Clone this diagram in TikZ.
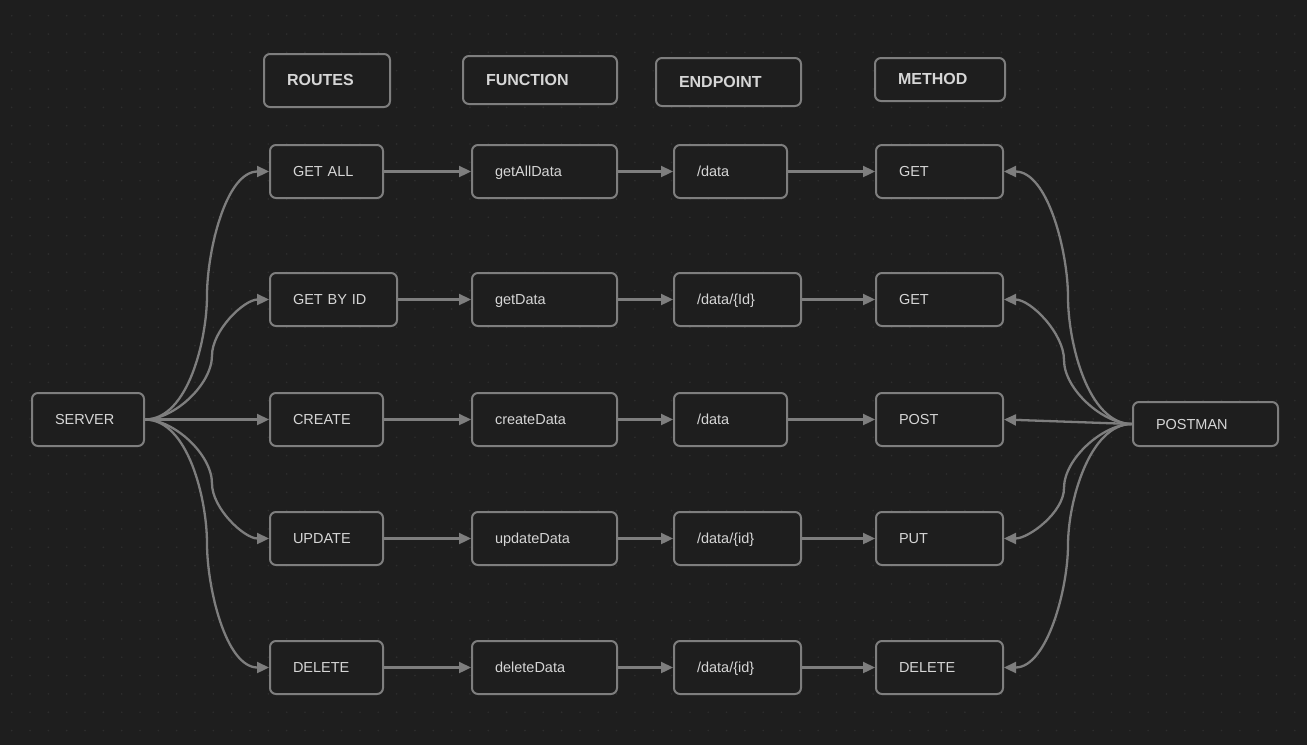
\documentclass[tikz,border=0pt]{standalone}
\usepackage{fontspec}
\setmainfont{Liberation Sans}
\usetikzlibrary{arrows.meta}
\definecolor{bgc}{HTML}{1E1E1E}
\definecolor{dotc}{HTML}{2E2E2E}
\definecolor{edgec}{HTML}{7E7E7E}
\definecolor{txtc}{HTML}{D6D6D6}
\begin{document}
\begin{tikzpicture}[x=1pt,y=-1pt,
    box/.style={draw=edgec, line width=2pt, fill=bgc, rounded corners=6pt,
      text=txtc, anchor=west, align=left, inner xsep=23pt, inner ysep=0pt,
      minimum height=53pt, text width=#1, text height=11.5pt, text depth=1.5pt,
      font=\fontsize{14.5}{16}\selectfont},
    head/.style={box=#1, font=\fontsize{16}{18}\selectfont\bfseries},
    link/.style={draw=edgec, line width=2.3pt,
      -{Triangle[length=12pt,width=11pt]}}]
  \useasboundingbox (0,0) rectangle (1307,745);
  \fill[bgc] (0,0) rectangle (1307,745);
  \foreach \i in {0,...,70}
    \foreach \j in {0,...,39}
      \fill[dotc] (11.7+18.33*\i,15.7+18.33*\j) circle (0.9);

  \node[head=80pt, minimum height=53pt] (hroutes) at (263,80.5) {ROUTES};
  \node[head=108pt, minimum height=48pt] (hfunction) at (462,80) {FUNCTION};
  \node[head=99pt, minimum height=48pt] (hendpoint) at (655,82) {ENDPOINT};
  \node[head=84pt, minimum height=43pt] (hmethod) at (874,79.5) {METHOD};

  \node[box=66pt] (server) at (31,419.5) {SERVER};
  \node[box=99pt, minimum height=44pt] (postman) at (1132,424) {POSTMAN};

  \node[box=67pt] (r1) at (269,171.5) {GET ALL};
  \node[box=81pt] (r2) at (269,299.5) {GET BY ID};
  \node[box=67pt] (r3) at (269,419.5) {CREATE};
  \node[box=67pt] (r4) at (269,538.5) {UPDATE};
  \node[box=67pt] (r5) at (269,667.5) {DELETE};

  \node[box=99pt] (f1) at (471,171.5) {getAllData};
  \node[box=99pt] (f2) at (471,299.5) {getData};
  \node[box=99pt] (f3) at (471,419.5) {createData};
  \node[box=99pt] (f4) at (471,538.5) {updateData};
  \node[box=99pt] (f5) at (471,667.5) {deleteData};

  \node[box=67pt] (e1) at (673,171.5) {/data};
  \node[box=81pt] (e2) at (673,299.5) {/data/\{Id\}};
  \node[box=67pt] (e3) at (673,419.5) {/data};
  \node[box=81pt] (e4) at (673,538.5) {/data/\{id\}};
  \node[box=81pt] (e5) at (673,667.5) {/data/\{id\}};

  \node[box=81pt] (m1) at (875,171.5) {GET};
  \node[box=81pt] (m2) at (875,299.5) {GET};
  \node[box=81pt] (m3) at (875,419.5) {POST};
  \node[box=81pt] (m4) at (875,538.5) {PUT};
  \node[box=81pt] (m5) at (875,667.5) {DELETE};

  \begin{scope}[looseness=0.8]
    \draw[link] (server.east) to[out=0,in=-90] ++(62,-124) to[out=90,in=180] (r1.west);
    \draw[link] (server.east) to[out=0,in=-90] ++(67,-64) to[out=90,in=180] (r2.west);
    \draw[link] (server.east) -- (r3.west);
    \draw[link] (server.east) to[out=0,in=90] ++(67,64) to[out=-90,in=180] (r4.west);
    \draw[link] (server.east) to[out=0,in=90] ++(62,124) to[out=-90,in=180] (r5.west);

    \draw[link] (postman.west) to[out=180,in=-90] ++(-64,-127) to[out=90,in=0] (m1.east);
    \draw[link] (postman.west) to[out=180,in=-90] ++(-68,-64) to[out=90,in=0] (m2.east);
    \draw[link] (postman.west) -- (m3.east);
    \draw[link] (postman.west) to[out=180,in=90] ++(-68,64) to[out=-90,in=0] (m4.east);
    \draw[link] (postman.west) to[out=180,in=90] ++(-64,121) to[out=-90,in=0] (m5.east);
  \end{scope}

  \foreach \k in {1,...,5} {
    \draw[link] (r\k.east) -- (f\k.west);
    \draw[link] (f\k.east) -- (e\k.west);
    \draw[link] (e\k.east) -- (m\k.west);
  }
\end{tikzpicture}
\end{document}
